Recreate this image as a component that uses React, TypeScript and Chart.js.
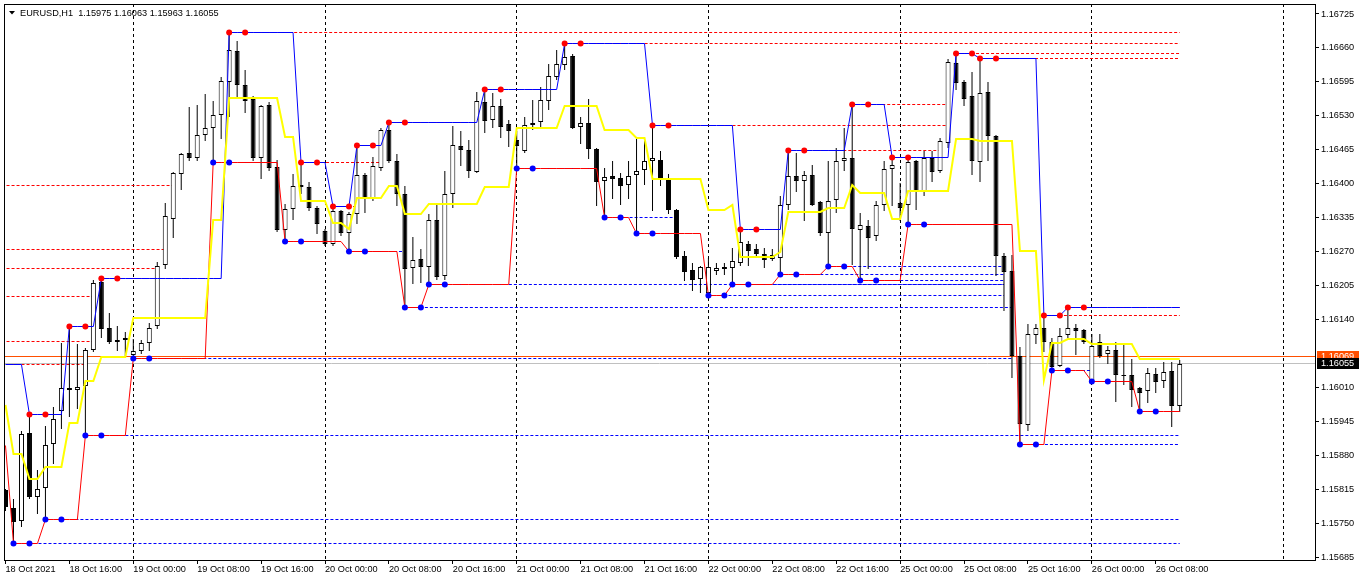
import { useEffect, useRef } from 'react';
import { Chart, registerables } from 'chart.js';

Chart.register(...registerables);

// ---- header ----
const symbolLabel = 'EURUSD,H1';
const lastBarOHLC = '1.15975 1.16063 1.15963 1.16055';

// ---- H1 candles, bar 0 = 18 Oct 2021 08:00 ----
const opens = [
  1.15813, 1.15778, 1.15754, 1.15923, 1.15800, 1.15818, 1.15902, 1.15964, 1.16009, 1.16005,
  1.16013, 1.16081, 1.16212, 1.16123, 1.16096, 1.16100, 1.16072, 1.16079, 1.16094, 1.16128,
  1.16245, 1.16333, 1.16418, 1.16458, 1.16450, 1.16494, 1.16506, 1.16532, 1.16595, 1.16654,
  1.16588, 1.16563, 1.16449, 1.16551, 1.16432, 1.16312, 1.16352, 1.16397, 1.16393, 1.16353,
  1.16309, 1.16284, 1.16347, 1.16306, 1.16341, 1.16417, 1.16371, 1.16430, 1.16503, 1.16444,
  1.16381, 1.16239, 1.16255, 1.16241, 1.16330, 1.16223, 1.16380, 1.16473, 1.16465, 1.16422,
  1.16557, 1.16522, 1.16548, 1.16514, 1.16483, 1.16463, 1.16513, 1.16518, 1.16558, 1.16605,
  1.16627, 1.16645, 1.16508, 1.16516, 1.16466, 1.16406, 1.16414, 1.16410, 1.16398, 1.16417,
  1.16427, 1.16444, 1.16446, 1.16411, 1.16350, 1.16261, 1.16234, 1.16217, 1.16191, 1.16233,
  1.16240, 1.16238, 1.16249, 1.16284, 1.16274, 1.16265, 1.16256, 1.16258, 1.16360, 1.16414,
  1.16406, 1.16417, 1.16364, 1.16306, 1.16368, 1.16444, 1.16450, 1.16312, 1.16319, 1.16299,
  1.16359, 1.16429, 1.16363, 1.16360, 1.16443, 1.16385, 1.16450, 1.16424, 1.16477, 1.16631,
  1.16595, 1.16567, 1.16441, 1.16576, 1.16492, 1.16261, 1.16233, 1.16070, 1.15938, 1.16110,
  1.16123, 1.16096, 1.16051, 1.16110, 1.16123, 1.16119, 1.16022, 1.16096, 1.16074, 1.16081,
  1.16032, 1.16034, 1.16009, 1.16002, 1.16036, 1.16023, 1.16042, 1.15975,
];
const highs = [
  1.15815, 1.15797, 1.15927, 1.15958, 1.15851, 1.15935, 1.15972, 1.16094, 1.16126, 1.16093,
  1.16086, 1.16215, 1.16219, 1.16153, 1.16128, 1.16115, 1.16102, 1.16100, 1.16133, 1.16250,
  1.16363, 1.16422, 1.16458, 1.16546, 1.16551, 1.16572, 1.16559, 1.16605, 1.16689, 1.16673,
  1.16618, 1.16567, 1.16551, 1.16557, 1.16446, 1.16361, 1.16419, 1.16441, 1.16404, 1.16357,
  1.16313, 1.16357, 1.16350, 1.16345, 1.16474, 1.16420, 1.16452, 1.16506, 1.16518, 1.16456,
  1.16395, 1.16298, 1.16274, 1.16341, 1.16359, 1.16425, 1.16511, 1.16500, 1.16484, 1.16575,
  1.16581, 1.16573, 1.16563, 1.16522, 1.16500, 1.16528, 1.16561, 1.16586, 1.16630, 1.16656,
  1.16668, 1.16649, 1.16527, 1.16562, 1.16468, 1.16430, 1.16444, 1.16420, 1.16444, 1.16490,
  1.16481, 1.16512, 1.16462, 1.16418, 1.16351, 1.16272, 1.16249, 1.16242, 1.16257, 1.16249,
  1.16249, 1.16276, 1.16313, 1.16291, 1.16284, 1.16277, 1.16274, 1.16376, 1.16464, 1.16458,
  1.16424, 1.16436, 1.16366, 1.16444, 1.16468, 1.16507, 1.16552, 1.16343, 1.16331, 1.16366,
  1.16443, 1.16451, 1.16401, 1.16446, 1.16446, 1.16463, 1.16463, 1.16488, 1.16639, 1.16649,
  1.16599, 1.16613, 1.16640, 1.16595, 1.16494, 1.16268, 1.16263, 1.16088, 1.16131, 1.16131,
  1.16147, 1.16105, 1.16123, 1.16163, 1.16131, 1.16122, 1.16112, 1.16113, 1.16090, 1.16096,
  1.16091, 1.16064, 1.16010, 1.16047, 1.16047, 1.16059, 1.16059, 1.16063,
];
const lows = [
  1.15773, 1.15711, 1.15742, 1.15797, 1.15768, 1.15757, 1.15864, 1.15931, 1.15954, 1.15969,
  1.15918, 1.16078, 1.16105, 1.16093, 1.16079, 1.16067, 1.16066, 1.16074, 1.16080, 1.16122,
  1.16236, 1.16296, 1.16387, 1.16444, 1.16443, 1.16481, 1.16441, 1.16486, 1.16528, 1.16562,
  1.16535, 1.16443, 1.16408, 1.16424, 1.16308, 1.16290, 1.16331, 1.16380, 1.16347, 1.16303,
  1.16280, 1.16280, 1.16299, 1.16271, 1.16322, 1.16344, 1.16366, 1.16424, 1.16439, 1.16357,
  1.16163, 1.16208, 1.16210, 1.16206, 1.16215, 1.16215, 1.16353, 1.16433, 1.16411, 1.16421,
  1.16497, 1.16506, 1.16487, 1.16471, 1.16430, 1.16458, 1.16503, 1.16509, 1.16541, 1.16598,
  1.16618, 1.16504, 1.16476, 1.16448, 1.16357, 1.16336, 1.16370, 1.16359, 1.16370, 1.16305,
  1.16398, 1.16348, 1.16395, 1.16341, 1.16255, 1.16214, 1.16195, 1.16191, 1.16185, 1.16225,
  1.16226, 1.16207, 1.16242, 1.16242, 1.16258, 1.16239, 1.16252, 1.16227, 1.16350, 1.16384,
  1.16328, 1.16357, 1.16299, 1.16241, 1.16343, 1.16424, 1.16245, 1.16214, 1.16236, 1.16290,
  1.16347, 1.16357, 1.16328, 1.16321, 1.16350, 1.16376, 1.16404, 1.16420, 1.16469, 1.16579,
  1.16548, 1.16416, 1.16404, 1.16444, 1.16223, 1.16156, 1.16027, 1.15901, 1.15927, 1.16093,
  1.16077, 1.16043, 1.16049, 1.16105, 1.16072, 1.16093, 1.16021, 1.16067, 1.16055, 1.15981,
  1.16015, 1.15972, 1.15964, 1.15979, 1.16000, 1.16008, 1.15934, 1.15963,
];
const closes = [
  1.15780, 1.15752, 1.15921, 1.15800, 1.15816, 1.15900, 1.15950, 1.16009, 1.16005, 1.16011,
  1.16081, 1.16210, 1.16122, 1.16097, 1.16100, 1.16104, 1.16080, 1.16094, 1.16124, 1.16243,
  1.16338, 1.16420, 1.16456, 1.16449, 1.16494, 1.16507, 1.16532, 1.16597, 1.16656, 1.16589,
  1.16559, 1.16449, 1.16549, 1.16430, 1.16312, 1.16352, 1.16396, 1.16393, 1.16353, 1.16322,
  1.16284, 1.16347, 1.16306, 1.16341, 1.16416, 1.16370, 1.16433, 1.16503, 1.16443, 1.16380,
  1.16237, 1.16253, 1.16241, 1.16331, 1.16221, 1.16381, 1.16474, 1.16464, 1.16425, 1.16559,
  1.16520, 1.16548, 1.16509, 1.16501, 1.16473, 1.16513, 1.16517, 1.16560, 1.16607, 1.16630,
  1.16643, 1.16507, 1.16517, 1.16466, 1.16403, 1.16412, 1.16408, 1.16396, 1.16414, 1.16425,
  1.16443, 1.16450, 1.16411, 1.16350, 1.16260, 1.16231, 1.16215, 1.16240, 1.16240, 1.16239,
  1.16237, 1.16252, 1.16288, 1.16272, 1.16265, 1.16254, 1.16263, 1.16359, 1.16414, 1.16406,
  1.16416, 1.16360, 1.16305, 1.16366, 1.16444, 1.16450, 1.16314, 1.16320, 1.16296, 1.16359,
  1.16429, 1.16435, 1.16353, 1.16441, 1.16385, 1.16449, 1.16422, 1.16481, 1.16633, 1.16592,
  1.16563, 1.16444, 1.16573, 1.16492, 1.16261, 1.16231, 1.16070, 1.15940, 1.16112, 1.16123,
  1.16096, 1.16049, 1.16109, 1.16123, 1.16118, 1.16096, 1.16090, 1.16070, 1.16081, 1.16034,
  1.16031, 1.16005, 1.15999, 1.16037, 1.16020, 1.16040, 1.15974, 1.16055,
];

// ---- channel indicator (upper = blue, lower = red, middle = yellow) ----
const upperBand = [
  1.16053, 1.16053, 1.16053, 1.15958, 1.15958, 1.15958, 1.15958, 1.15958, 1.16126, 1.16126,
  1.16126, 1.16126, 1.16219, 1.16219, 1.16219, 1.16219, 1.16219, 1.16219, 1.16219, 1.16219,
  1.16219, 1.16219, 1.16219, 1.16219, 1.16219, 1.16219, 1.16219, 1.16219, 1.16689, 1.16689,
  1.16689, 1.16689, 1.16689, 1.16689, 1.16689, 1.16689, 1.16689, 1.16441, 1.16441, 1.16441,
  1.16441, 1.16357, 1.16357, 1.16357, 1.16474, 1.16474, 1.16474, 1.16474, 1.16518, 1.16518,
  1.16518, 1.16518, 1.16518, 1.16518, 1.16518, 1.16518, 1.16518, 1.16518, 1.16518, 1.16518,
  1.16581, 1.16581, 1.16581, 1.16581, 1.16581, 1.16581, 1.16581, 1.16581, 1.16581, 1.16581,
  1.16668, 1.16668, 1.16668, 1.16668, 1.16668, 1.16668, 1.16668, 1.16668, 1.16668, 1.16668,
  1.16668, 1.16512, 1.16512, 1.16512, 1.16512, 1.16512, 1.16512, 1.16512, 1.16512, 1.16512,
  1.16512, 1.16512, 1.16313, 1.16313, 1.16313, 1.16313, 1.16313, 1.16313, 1.16464, 1.16464,
  1.16464, 1.16464, 1.16464, 1.16464, 1.16464, 1.16464, 1.16552, 1.16552, 1.16552, 1.16552,
  1.16552, 1.16451, 1.16451, 1.16451, 1.16451, 1.16451, 1.16451, 1.16451, 1.16451, 1.16649,
  1.16649, 1.16649, 1.16640, 1.16640, 1.16640, 1.16640, 1.16640, 1.16640, 1.16640, 1.16640,
  1.16147, 1.16147, 1.16147, 1.16163, 1.16163, 1.16163, 1.16163, 1.16163, 1.16163, 1.16163,
  1.16163, 1.16163, 1.16163, 1.16163, 1.16163, 1.16163, 1.16163, 1.16163,
];
const lowerBand = [
  1.15899, 1.15711, 1.15711, 1.15711, 1.15711, 1.15757, 1.15757, 1.15757, 1.15757, 1.15757,
  1.15918, 1.15918, 1.15918, 1.15918, 1.15918, 1.15918, 1.16066, 1.16066, 1.16066, 1.16066,
  1.16066, 1.16066, 1.16066, 1.16066, 1.16066, 1.16066, 1.16441, 1.16441, 1.16441, 1.16441,
  1.16441, 1.16441, 1.16441, 1.16441, 1.16441, 1.16290, 1.16290, 1.16290, 1.16290, 1.16290,
  1.16290, 1.16290, 1.16290, 1.16271, 1.16271, 1.16271, 1.16271, 1.16271, 1.16271, 1.16271,
  1.16163, 1.16163, 1.16163, 1.16206, 1.16206, 1.16206, 1.16206, 1.16206, 1.16206, 1.16206,
  1.16206, 1.16206, 1.16206, 1.16206, 1.16430, 1.16430, 1.16430, 1.16430, 1.16430, 1.16430,
  1.16430, 1.16430, 1.16430, 1.16430, 1.16430, 1.16336, 1.16336, 1.16336, 1.16336, 1.16305,
  1.16305, 1.16305, 1.16305, 1.16305, 1.16305, 1.16305, 1.16305, 1.16305, 1.16185, 1.16185,
  1.16185, 1.16207, 1.16207, 1.16207, 1.16207, 1.16207, 1.16207, 1.16227, 1.16227, 1.16227,
  1.16227, 1.16227, 1.16227, 1.16241, 1.16241, 1.16241, 1.16241, 1.16214, 1.16214, 1.16214,
  1.16214, 1.16214, 1.16214, 1.16321, 1.16321, 1.16321, 1.16321, 1.16321, 1.16321, 1.16321,
  1.16321, 1.16321, 1.16321, 1.16321, 1.16321, 1.16321, 1.16321, 1.15901, 1.15901, 1.15901,
  1.15901, 1.16043, 1.16043, 1.16043, 1.16043, 1.16043, 1.16021, 1.16021, 1.16021, 1.16021,
  1.16021, 1.16021, 1.15964, 1.15964, 1.15964, 1.15964, 1.15964, 1.15964,
];
const middleBand = [
  1.15976, 1.15882, 1.15882, 1.15835, 1.15835, 1.15858, 1.15858, 1.15858, 1.15942, 1.15942,
  1.16022, 1.16022, 1.16069, 1.16069, 1.16069, 1.16069, 1.16143, 1.16143, 1.16143, 1.16143,
  1.16143, 1.16143, 1.16143, 1.16143, 1.16143, 1.16143, 1.16330, 1.16330, 1.16565, 1.16565,
  1.16565, 1.16565, 1.16565, 1.16565, 1.16565, 1.16490, 1.16490, 1.16366, 1.16366, 1.16366,
  1.16366, 1.16324, 1.16324, 1.16314, 1.16373, 1.16373, 1.16373, 1.16373, 1.16395, 1.16395,
  1.16341, 1.16341, 1.16341, 1.16362, 1.16362, 1.16362, 1.16362, 1.16362, 1.16362, 1.16362,
  1.16394, 1.16394, 1.16394, 1.16394, 1.16506, 1.16506, 1.16506, 1.16506, 1.16506, 1.16506,
  1.16549, 1.16549, 1.16549, 1.16549, 1.16549, 1.16502, 1.16502, 1.16502, 1.16502, 1.16487,
  1.16487, 1.16409, 1.16409, 1.16409, 1.16409, 1.16409, 1.16409, 1.16409, 1.16349, 1.16349,
  1.16349, 1.16360, 1.16260, 1.16260, 1.16260, 1.16260, 1.16260, 1.16270, 1.16346, 1.16346,
  1.16346, 1.16346, 1.16346, 1.16353, 1.16353, 1.16353, 1.16397, 1.16383, 1.16383, 1.16383,
  1.16383, 1.16333, 1.16333, 1.16386, 1.16386, 1.16386, 1.16386, 1.16386, 1.16386, 1.16485,
  1.16485, 1.16485, 1.16481, 1.16481, 1.16481, 1.16481, 1.16481, 1.16271, 1.16271, 1.16271,
  1.16024, 1.16095, 1.16095, 1.16103, 1.16103, 1.16103, 1.16092, 1.16092, 1.16092, 1.16092,
  1.16092, 1.16092, 1.16064, 1.16064, 1.16064, 1.16064, 1.16064, 1.16064,
];

// ---- fractal markers (bar index, price) ----
const highDotBars = [3, 5, 8, 10, 12, 14, 28, 30, 37, 39, 41, 43, 44, 46, 48, 50, 60, 62, 70, 72, 81, 83, 92, 94, 98, 100, 106, 108, 111, 113, 119, 121, 122, 124, 130, 132, 133, 135];
const highDotPrices = [1.15958, 1.15958, 1.16126, 1.16126, 1.16219, 1.16219, 1.16689, 1.16689, 1.16441, 1.16441, 1.16357, 1.16357, 1.16474, 1.16474, 1.16518, 1.16518, 1.16581, 1.16581, 1.16668, 1.16668, 1.16512, 1.16512, 1.16313, 1.16313, 1.16464, 1.16464, 1.16552, 1.16552, 1.16451, 1.16451, 1.16649, 1.16649, 1.16640, 1.16640, 1.16147, 1.16147, 1.16163, 1.16163];
const lowDotBars = [1, 3, 5, 7, 10, 12, 16, 18, 26, 28, 35, 37, 43, 45, 50, 52, 53, 55, 64, 66, 75, 77, 79, 81, 88, 90, 91, 93, 97, 99, 103, 105, 107, 109, 113, 115, 127, 129, 131, 133, 136, 138, 142, 144];
const lowDotPrices = [1.15711, 1.15711, 1.15757, 1.15757, 1.15918, 1.15918, 1.16066, 1.16066, 1.16441, 1.16441, 1.16290, 1.16290, 1.16271, 1.16271, 1.16163, 1.16163, 1.16206, 1.16206, 1.16430, 1.16430, 1.16336, 1.16336, 1.16305, 1.16305, 1.16185, 1.16185, 1.16207, 1.16207, 1.16227, 1.16227, 1.16241, 1.16241, 1.16214, 1.16214, 1.16321, 1.16321, 1.15901, 1.15901, 1.16043, 1.16043, 1.16021, 1.16021, 1.15964, 1.15964];

// ---- unbroken fractal levels (dashed): price, first bar, last bar ----
const resistancePrices = [1.16397, 1.16274, 1.16238, 1.16183, 1.16097, 1.16053, 1.15958, 1.16126, 1.16219, 1.16689, 1.16441, 1.16357, 1.16474, 1.16518, 1.16581, 1.16668, 1.16512, 1.16313, 1.16464, 1.16552, 1.16451, 1.16649, 1.16640, 1.16147, 1.16163];
const resistanceFrom = [-3, -3, -3, -3, -3, -3, 3, 8, 12, 28, 37, 41, 44, 48, 60, 70, 81, 92, 98, 106, 111, 119, 122, 130, 133];
const resistanceTo = [21, 20, 19, 11, 11, 10, 7, 11, 19, 147, 47, 44, 47, 59, 68, 147, 118, 97, 117, 118, 117, 147, 147, 147, 147];
const supportPrices = [1.15711, 1.15757, 1.15918, 1.16066, 1.16441, 1.16290, 1.16271, 1.16163, 1.16206, 1.16430, 1.16336, 1.16305, 1.16185, 1.16207, 1.16227, 1.16241, 1.16214, 1.16321, 1.15901, 1.16043, 1.16021, 1.15964];
const supportFrom = [1, 5, 10, 16, 26, 35, 43, 50, 53, 64, 75, 79, 88, 91, 97, 103, 107, 113, 127, 131, 136, 142];
const supportTo = [147, 147, 147, 126, 33, 41, 50, 126, 125, 74, 84, 84, 125, 125, 125, 125, 125, 124, 147, 136, 141, 147];

// ---- price lines ----
const askPrice = 1.16069;
const bidPrice = 1.16055;

// ---- axes ----
const xTickBars = [0, 8, 16, 24, 32, 40, 48, 56, 64, 72, 80, 88, 96, 104, 112, 120, 128, 136, 144];
const xTickLabels = [
  '18 Oct 2021', '18 Oct 16:00', '19 Oct 00:00', '19 Oct 08:00', '19 Oct 16:00', '20 Oct 00:00', '20 Oct 08:00',
  '20 Oct 16:00', '21 Oct 00:00', '21 Oct 08:00', '21 Oct 16:00', '22 Oct 00:00', '22 Oct 08:00', '22 Oct 16:00',
  '25 Oct 00:00', '25 Oct 08:00', '25 Oct 16:00', '26 Oct 00:00', '26 Oct 08:00',
];
const dayBreakBars = [16, 40, 64, 88, 112, 136, 160];
const yTickValues = [1.15685, 1.1575, 1.15815, 1.1588, 1.15945, 1.1601, 1.1614, 1.16205, 1.1627, 1.16335, 1.164, 1.16465, 1.1653, 1.16595, 1.1666, 1.16725];
const visibleBarFirst = -0.1875;
const visibleBarLast = 163.9375;
const visiblePriceLow = 1.1567928;
const visiblePriceHigh = 1.1674408;

const FONT_FAMILY = 'Liberation Sans';
const FONT_SIZE = 9.2;

export default function App() {
  const canvasRef = useRef<HTMLCanvasElement | null>(null);

  useEffect(() => {
    const canvas = canvasRef.current;
    if (!canvas) return;

    const bars = opens.map((_, i) => i);
    const datasets: any[] = [];

    // fractal dots (top)
    datasets.push({
      type: 'line', label: 'fractal high', order: 0, showLine: false,
      data: highDotBars.map((b, k) => ({ x: b, y: highDotPrices[k] })),
      pointRadius: 3, pointBorderWidth: 0, pointBackgroundColor: '#ff0000',
    });
    datasets.push({
      type: 'line', label: 'fractal low', order: 0, showLine: false,
      data: lowDotBars.map((b, k) => ({ x: b, y: lowDotPrices[k] })),
      pointRadius: 3, pointBorderWidth: 0, pointBackgroundColor: '#0000ff',
    });
    // channel lines
    datasets.push({
      type: 'line', label: 'middle', order: 1,
      data: bars.map((i) => ({ x: i, y: middleBand[i] })),
      borderColor: '#ffff00', borderWidth: 2, pointRadius: 0, tension: 0, fill: false,
    });
    datasets.push({
      type: 'line', label: 'upper', order: 2,
      data: bars.map((i) => ({ x: i, y: upperBand[i] })),
      borderColor: '#0000ff', borderWidth: 1, pointRadius: 0, tension: 0, fill: false,
    });
    datasets.push({
      type: 'line', label: 'lower', order: 2,
      data: bars.map((i) => ({ x: i, y: lowerBand[i] })),
      borderColor: '#ff0000', borderWidth: 1, pointRadius: 0, tension: 0, fill: false,
    });
    // candle bodies
    datasets.push({
      type: 'bar', label: 'body', order: 3, grouped: false,
      data: bars.map((i) => ({ x: i, y: [opens[i], closes[i]] })),
      backgroundColor: bars.map((i) => (closes[i] >= opens[i] ? '#ffffff' : '#000000')),
      borderColor: '#000000', borderWidth: 1, borderSkipped: false,
      barThickness: 5, minBarLength: 1, inflateAmount: 0,
    });
    // wicks
    datasets.push({
      type: 'bar', label: 'wick', order: 4, grouped: false,
      data: bars.map((i) => ({ x: i, y: [lows[i], highs[i]] })),
      backgroundColor: '#000000', borderWidth: 0, barThickness: 1, inflateAmount: 0,
    });
    // dashed levels
    resistancePrices.forEach((p, k) => {
      datasets.push({
        type: 'line', label: 'res', order: 5,
        data: [{ x: resistanceFrom[k], y: p }, { x: resistanceTo[k], y: p }],
        borderColor: '#ff0000', borderWidth: 1, borderDash: [3, 2], pointRadius: 0, fill: false,
      });
    });
    supportPrices.forEach((p, k) => {
      datasets.push({
        type: 'line', label: 'sup', order: 5,
        data: [{ x: supportFrom[k], y: p }, { x: supportTo[k], y: p }],
        borderColor: '#0000ff', borderWidth: 1, borderDash: [3, 2], pointRadius: 0, fill: false,
      });
    });
    // ask / bid lines
    datasets.push({
      type: 'line', label: 'ask', order: 6,
      data: [{ x: visibleBarFirst - 2, y: askPrice }, { x: visibleBarLast + 2, y: askPrice }],
      borderColor: '#ff4f00', borderWidth: 1, pointRadius: 0, fill: false,
    });
    datasets.push({
      type: 'line', label: 'bid', order: 6,
      data: [{ x: visibleBarFirst - 2, y: bidPrice }, { x: visibleBarLast + 2, y: bidPrice }],
      borderColor: '#c0c0c0', borderWidth: 1, pointRadius: 0, fill: false,
    });

    const fontCss = `${FONT_SIZE}px "${FONT_FAMILY}"`;

    // snap the element positions computed by the scales onto whole pixels (MT4 draws without anti-aliasing)
    const pixelSnap = {
      id: 'pixelSnap',
      afterDatasetsUpdate(chart: any) {
        chart.data.datasets.forEach((ds: any, di: number) => {
          const meta = chart.getDatasetMeta(di);
          if (meta.type === 'bar') {
            meta.data.forEach((el: any) => {
              el.y = Math.round(el.y);
              el.base = Math.round(el.base);
              if (el.y === el.base) el.base += 1;
            });
          } else {
            const even = ds.borderWidth === 2;
            meta.data.forEach((el: any) => {
              el.y = even ? Math.round(el.y) : Math.floor(el.y) + 0.5;
            });
          }
        });
      },
    };

    const overlay = {
      id: 'mt4Overlay',
      afterDraw(chart: any) {
        const { ctx, chartArea: a, scales } = chart;
        ctx.save();
        // frame
        ctx.strokeStyle = '#000';
        ctx.lineWidth = 1;
        ctx.setLineDash([]);
        ctx.strokeRect(a.left + 0.5, a.top + 0.5, a.right - a.left, a.bottom - a.top);
        // header
        ctx.fillStyle = '#000';
        ctx.beginPath();
        ctx.moveTo(a.left + 5, a.top + 7);
        ctx.lineTo(a.left + 11, a.top + 7);
        ctx.lineTo(a.left + 8, a.top + 10.5);
        ctx.closePath();
        ctx.fill();
        ctx.font = fontCss;
        ctx.textBaseline = 'middle';
        ctx.textAlign = 'left';
        ctx.fillText(`${symbolLabel}  ${lastBarOHLC}`, a.left + 16, a.top + 9);
        // price tags on the axis
        const tags: [number, string, string][] = [
          [askPrice, '#ff4f00', '#ffffff'],
          [bidPrice, '#000000', '#ffffff'],
        ];
        tags.forEach(([price, bg, fg]) => {
          const y = scales.y.getPixelForValue(price);
          ctx.fillStyle = bg;
          ctx.fillRect(a.right + 2, Math.floor(y) - 5, 42, 11);
          ctx.fillStyle = fg;
          ctx.fillText(price.toFixed(5), a.right + 6, Math.floor(y) + 0.5);
        });
        ctx.restore();
      },
    };

    const chart = new Chart(canvas, {
      type: 'line',
      data: { datasets },
      plugins: [pixelSnap, overlay],
      options: {
        animation: false,
        responsive: false,
        devicePixelRatio: 1,
        events: [],
        layout: { padding: { left: 2, top: 2, right: 0, bottom: 0 } },
        plugins: { legend: { display: false }, tooltip: { enabled: false }, title: { display: false } },
        scales: {
          x: {
            type: 'linear',
            position: 'bottom',
            min: visibleBarFirst,
            max: visibleBarLast,
            offset: false,
            bounds: 'data',
            afterBuildTicks: (s: any) => {
              s.ticks = [...xTickBars, 160].map((v) => ({ value: v }));
            },
            afterFit: (s: any) => {
              s.height = 21;
              s.paddingLeft = 0;
              s.paddingRight = 0;
            },
            grid: {
              offset: false,
              drawOnChartArea: true,
              drawTicks: true,
              tickLength: 4,
              lineWidth: 1,
              color: (c: any) => (c.tick && dayBreakBars.includes(c.tick.value) ? '#000000' : 'rgba(0,0,0,0)'),
              tickColor: (c: any) => (c.tick && xTickBars.includes(c.tick.value) ? '#000000' : 'rgba(0,0,0,0)'),
            },
            border: { display: false, dash: [3, 3] },
            ticks: {
              autoSkip: false,
              maxRotation: 0,
              minRotation: 0,
              align: 'start',
              padding: 0,
              color: '#000',
              font: { family: FONT_FAMILY, size: FONT_SIZE },
              callback: (v: any) => {
                const k = xTickBars.indexOf(Number(v));
                return k >= 0 ? xTickLabels[k] : '';
              },
            },
          },
          y: {
            type: 'linear',
            position: 'right',
            min: visiblePriceLow,
            max: visiblePriceHigh,
            bounds: 'data',
            beginAtZero: false,
            afterBuildTicks: (s: any) => {
              s.ticks = yTickValues.map((v) => ({ value: v }));
            },
            afterFit: (s: any) => {
              s.width = 47;
              s.paddingTop = 0;
              s.paddingBottom = 0;
            },
            grid: { drawOnChartArea: false, drawTicks: true, tickLength: 4, tickColor: '#000' },
            border: { display: false },
            ticks: {
              padding: 2,
              color: '#000',
              font: { family: FONT_FAMILY, size: FONT_SIZE },
              callback: (v: any) => Number(v).toFixed(5),
            },
          },
        },
      } as any,
    });

    return () => chart.destroy();
  }, []);

  return (
    <div style={{ position: 'fixed', left: 0, top: 0, width: 1362, height: 581, background: '#ffffff' }}>
      <canvas ref={canvasRef} width={1362} height={581} style={{ display: 'block' }} />
    </div>
  );
}
